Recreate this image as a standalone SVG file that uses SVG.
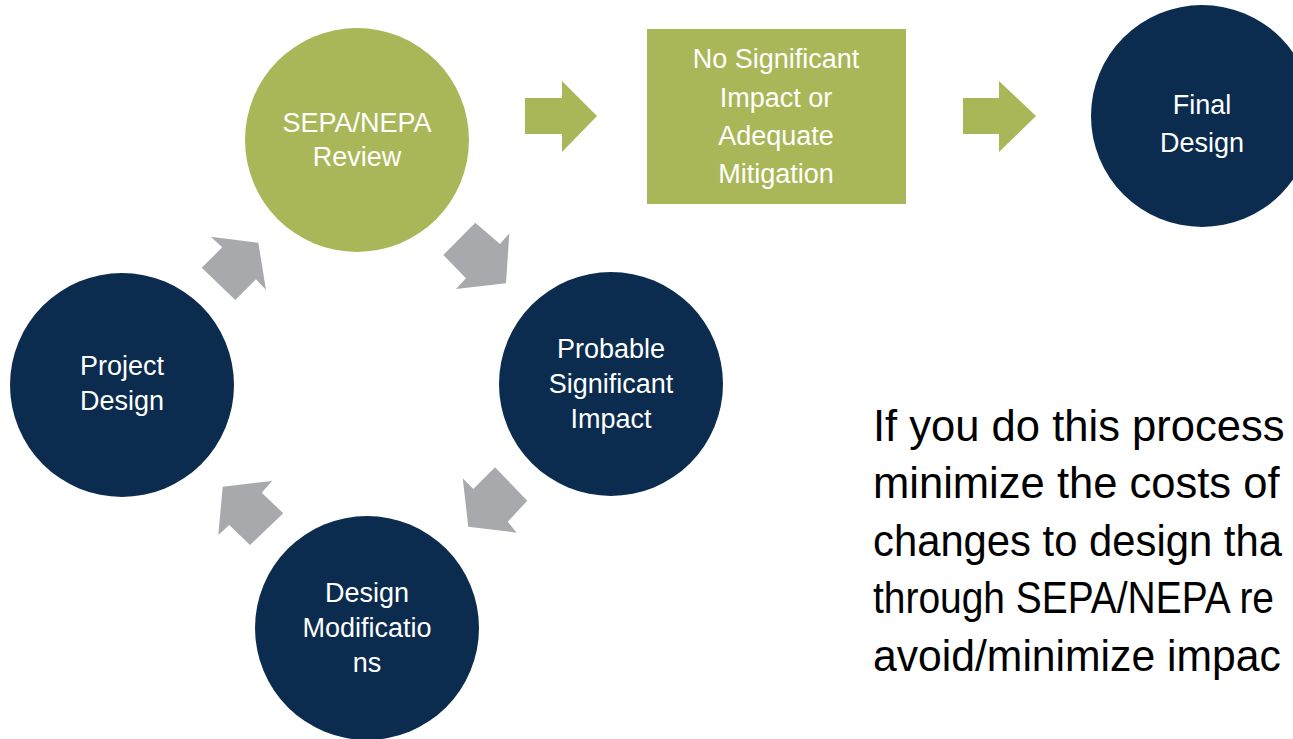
<svg xmlns="http://www.w3.org/2000/svg" width="1293" height="739" viewBox="0 0 1293 739">
<style>
.navy{fill:#0B2C4E}
.green{fill:#AAB758}
.gray{fill:#A8A9AD}
.lbl{font-family:"Liberation Sans",Arial,sans-serif;font-size:27px;fill:#FFFFFF;text-anchor:middle}
.body{font-family:"Liberation Sans",Arial,sans-serif;font-size:44px;fill:#000000}
</style>
<rect width="1293" height="739" fill="#FFFFFF"/>
<g id="connectors">
<polygon class="green" points="525,98 562,98 562,81 597,116 562,152 562,134 525,134"/>
<polygon class="green" points="963,98 999,98 999,81 1036,116 999,152 999,134 963,134"/>
<polygon class="gray" points="258.3,242.7 266,290 256,279.3 235.3,300 201.7,267.7 222.3,247.3 210.7,236.7"/>
<polygon class="gray" points="475.3,222.7 500,244 509.3,233.3 506,283.3 456,289 466,278.3 443.3,255"/>
<polygon class="gray" points="495,467.3 527.3,500.7 507.7,521.7 516.7,532.7 468.3,526.7 462.7,478.3 473.3,489"/>
<polygon class="gray" points="222.7,486.7 272,481 261.7,492.7 283.3,513.3 250,545 229.3,525 218.3,535"/>
</g>
<g id="sepa">
<circle class="green" cx="357" cy="140" r="112"/>
<text class="lbl" x="357" y="132">SEPA/NEPA</text>
<text class="lbl" x="357" y="166">Review</text>
</g>
<g id="no-impact">
<rect class="green" x="647" y="29" width="259" height="175"/>
<text class="lbl" x="776" y="68">No Significant</text>
<text class="lbl" x="776" y="107">Impact or</text>
<text class="lbl" x="776" y="145">Adequate</text>
<text class="lbl" x="776" y="183">Mitigation</text>
</g>
<g id="final">
<circle class="navy" cx="1202" cy="116" r="111"/>
<text class="lbl" x="1202" y="114">Final</text>
<text class="lbl" x="1202" y="152">Design</text>
</g>
<g id="project">
<circle class="navy" cx="122" cy="385" r="112"/>
<text class="lbl" x="122" y="375">Project</text>
<text class="lbl" x="122" y="410">Design</text>
</g>
<g id="probable">
<circle class="navy" cx="611" cy="384" r="112"/>
<text class="lbl" x="611" y="358">Probable</text>
<text class="lbl" x="611" y="393">Significant</text>
<text class="lbl" x="611" y="428">Impact</text>
</g>
<g id="modifications">
<circle class="navy" cx="367" cy="628" r="112"/>
<text class="lbl" x="367" y="602">Design</text>
<text class="lbl" x="367" y="637">Modificatio</text>
<text class="lbl" x="367" y="672">ns</text>
</g>
<g id="note">
<text class="body" x="0" y="0" transform="translate(873,441) scale(0.99,1)">If you do this process</text>
<text class="body" x="0" y="0" transform="translate(873,498) scale(0.99,1)">minimize the costs of</text>
<text class="body" x="0" y="0" transform="translate(873,556) scale(0.95,1)">changes to design tha</text>
<text class="body" x="0" y="0" transform="translate(873,613) scale(0.885,1)">through SEPA/NEPA re</text>
<text class="body" x="0" y="0" transform="translate(873,671) scale(0.97,1)">avoid/minimize impac</text>
</g>
</svg>
